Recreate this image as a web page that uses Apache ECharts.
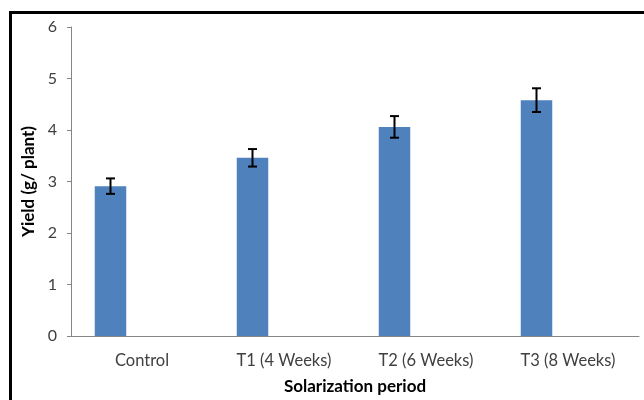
<!DOCTYPE html>
<html>
<head>
<meta charset="utf-8">
<script src="https://cdn.jsdelivr.net/npm/echarts@6/dist/echarts.min.js"></script>
<style>
html,body{margin:0;padding:0;background:#fff;}
#c{width:644px;height:400px;}
</style>
</head>
<body>
<div id="c"></div>
<script>
const categories = ['Control', 'T1 (4 Weeks)', 'T2 (6 Weeks)', 'T3 (8 Weeks)'];
const yieldValues = [2.91, 3.46, 4.06, 4.58];
const errorValues = [0.15, 0.17, 0.21, 0.23];
const yTicks = { min: 0, max: 6, interval: 1 };

const BAR_W = 31.5;
const FONT = 'Lato, "Liberation Sans", sans-serif';

const errData = categories.map((c, i) => [i, yieldValues[i] - errorValues[i], yieldValues[i] + errorValues[i]]);

const chart = echarts.init(document.getElementById('c'), null, { renderer: 'canvas' });
chart.setOption({
  animation: false,
  backgroundColor: '#fff',
  graphic: [{
    type: 'rect',
    shape: { x: 10.5, y: 12.5, width: 800, height: 600 },
    style: { fill: 'none', stroke: '#000', lineWidth: 3 },
    z: 100
  }],
  grid: { left: 71, right: 5, top: 27, bottom: 62, containLabel: false },
  xAxis: {
    type: 'category',
    data: categories,
    axisLine: { lineStyle: { color: '#868686', width: 1 } },
    axisTick: { show: false },
    axisLabel: { color: '#404040', fontSize: 16.5, fontFamily: FONT, margin: 16 },
    name: 'Solarization period',
    nameLocation: 'middle',
    nameGap: 42,
    nameTextStyle: { color: '#000', fontSize: 17, fontWeight: 'bold', fontFamily: FONT }
  },
  yAxis: {
    type: 'value',
    min: yTicks.min, max: yTicks.max, interval: yTicks.interval,
    axisLine: { show: true, lineStyle: { color: '#868686', width: 1 } },
    axisTick: { show: true, length: 4, lineStyle: { color: '#868686' } },
    splitLine: { show: false },
    axisLabel: { color: '#404040', fontSize: 16, fontFamily: FONT, margin: 14 },
    name: 'Yield (g/ plant)',
    nameLocation: 'middle',
    nameGap: 33,
    nameTextStyle: { color: '#000', fontSize: 17, fontWeight: 'bold', fontFamily: FONT }
  },
  series: [
    { type: 'bar', data: yieldValues, barWidth: BAR_W, barGap: '0%', itemStyle: { color: '#4F81BD' } },
    { type: 'bar', data: categories.map(() => '-'), barWidth: BAR_W, barGap: '0%' },
    { type: 'bar', data: categories.map(() => '-'), barWidth: BAR_W, barGap: '0%' },
    {
      type: 'custom',
      data: errData,
      z: 10,
      renderItem: function (params, api) {
        const i = api.value(0);
        const lo = api.coord([i, api.value(1)]);
        const hi = api.coord([i, api.value(2)]);
        const x = lo[0] - BAR_W;
        const cap = 4.5;
        const st = { stroke: '#000', lineWidth: 2 };
        return {
          type: 'group',
          children: [
            { type: 'line', shape: { x1: x, y1: lo[1], x2: x, y2: hi[1] }, style: st },
            { type: 'line', shape: { x1: x - cap, y1: lo[1], x2: x + cap, y2: lo[1] }, style: st },
            { type: 'line', shape: { x1: x - cap, y1: hi[1], x2: x + cap, y2: hi[1] }, style: st }
          ]
        };
      }
    }
  ]
});
</script>
</body>
</html>
